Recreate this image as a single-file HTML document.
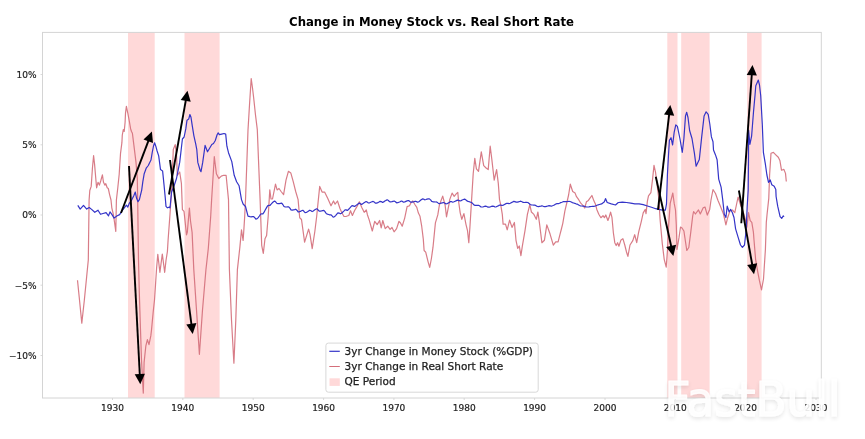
<!DOCTYPE html>
<html><head><meta charset="utf-8"><style>
html,body{margin:0;padding:0;background:#fff;}
svg{display:block;}
text{font-family:"DejaVu Sans","Liberation Sans",sans-serif;}
</style></head><body>
<svg width="865" height="439" viewBox="0 0 865 439">
<rect width="865" height="439" fill="#fff"/>

<rect x="128.0" y="32.4" width="26.7" height="365.6" fill="#ffd9d9"/>
<rect x="184.5" y="32.4" width="35.1" height="365.6" fill="#ffd9d9"/>
<rect x="667.3" y="32.4" width="10.2" height="365.6" fill="#ffd9d9"/>
<rect x="681.2" y="32.4" width="28.4" height="365.6" fill="#ffd9d9"/>
<rect x="747.1" y="32.4" width="14.5" height="365.6" fill="#ffd9d9"/>
<rect x="42.5" y="32.4" width="778.8" height="365.6" fill="none" stroke="#d4d4d4" stroke-width="1"/>
<line x1="112.5" y1="398.0" x2="112.5" y2="400.0" stroke="#d0d0d0" stroke-width="0.8"/>
<text x="112.5" y="411.3" font-size="9" fill="#222" stroke="#222" stroke-width="0.2" text-anchor="middle">1930</text>
<line x1="182.8" y1="398.0" x2="182.8" y2="400.0" stroke="#d0d0d0" stroke-width="0.8"/>
<text x="182.8" y="411.3" font-size="9" fill="#222" stroke="#222" stroke-width="0.2" text-anchor="middle">1940</text>
<line x1="253.2" y1="398.0" x2="253.2" y2="400.0" stroke="#d0d0d0" stroke-width="0.8"/>
<text x="253.2" y="411.3" font-size="9" fill="#222" stroke="#222" stroke-width="0.2" text-anchor="middle">1950</text>
<line x1="323.6" y1="398.0" x2="323.6" y2="400.0" stroke="#d0d0d0" stroke-width="0.8"/>
<text x="323.6" y="411.3" font-size="9" fill="#222" stroke="#222" stroke-width="0.2" text-anchor="middle">1960</text>
<line x1="393.9" y1="398.0" x2="393.9" y2="400.0" stroke="#d0d0d0" stroke-width="0.8"/>
<text x="393.9" y="411.3" font-size="9" fill="#222" stroke="#222" stroke-width="0.2" text-anchor="middle">1970</text>
<line x1="464.2" y1="398.0" x2="464.2" y2="400.0" stroke="#d0d0d0" stroke-width="0.8"/>
<text x="464.2" y="411.3" font-size="9" fill="#222" stroke="#222" stroke-width="0.2" text-anchor="middle">1980</text>
<line x1="534.6" y1="398.0" x2="534.6" y2="400.0" stroke="#d0d0d0" stroke-width="0.8"/>
<text x="534.6" y="411.3" font-size="9" fill="#222" stroke="#222" stroke-width="0.2" text-anchor="middle">1990</text>
<line x1="605.0" y1="398.0" x2="605.0" y2="400.0" stroke="#d0d0d0" stroke-width="0.8"/>
<text x="605.0" y="411.3" font-size="9" fill="#222" stroke="#222" stroke-width="0.2" text-anchor="middle">2000</text>
<line x1="675.3" y1="398.0" x2="675.3" y2="400.0" stroke="#d0d0d0" stroke-width="0.8"/>
<text x="675.3" y="411.3" font-size="9" fill="#222" stroke="#222" stroke-width="0.2" text-anchor="middle">2010</text>
<line x1="745.6" y1="398.0" x2="745.6" y2="400.0" stroke="#d0d0d0" stroke-width="0.8"/>
<text x="745.6" y="411.3" font-size="9" fill="#222" stroke="#222" stroke-width="0.2" text-anchor="middle">2020</text>
<line x1="816.0" y1="398.0" x2="816.0" y2="400.0" stroke="#d0d0d0" stroke-width="0.8"/>
<text x="816.0" y="411.3" font-size="9" fill="#222" stroke="#222" stroke-width="0.2" text-anchor="middle">2030</text>
<line x1="40.5" y1="74.5" x2="42.5" y2="74.5" stroke="#d0d0d0" stroke-width="0.8"/>
<text x="36.5" y="77.8" font-size="9" fill="#222" stroke="#222" stroke-width="0.2" text-anchor="end">10%</text>
<line x1="40.5" y1="144.8" x2="42.5" y2="144.8" stroke="#d0d0d0" stroke-width="0.8"/>
<text x="36.5" y="148.1" font-size="9" fill="#222" stroke="#222" stroke-width="0.2" text-anchor="end">5%</text>
<line x1="40.5" y1="215.0" x2="42.5" y2="215.0" stroke="#d0d0d0" stroke-width="0.8"/>
<text x="36.5" y="218.3" font-size="9" fill="#222" stroke="#222" stroke-width="0.2" text-anchor="end">0%</text>
<line x1="40.5" y1="285.2" x2="42.5" y2="285.2" stroke="#d0d0d0" stroke-width="0.8"/>
<text x="36.5" y="288.6" font-size="9" fill="#222" stroke="#222" stroke-width="0.2" text-anchor="end">−5%</text>
<line x1="40.5" y1="355.5" x2="42.5" y2="355.5" stroke="#d0d0d0" stroke-width="0.8"/>
<text x="36.5" y="358.8" font-size="9" fill="#222" stroke="#222" stroke-width="0.2" text-anchor="end">−10%</text>
<polyline points="77.5,280.2 79.5,300.0 81.8,323.1 84.3,300.5 86.7,276.2 88.3,260.0 89.1,200.0 89.8,190.5 91.2,186.4 92.5,167.3 93.6,155.7 94.6,164.6 96.0,181.0 96.6,187.8 98.0,182.3 99.4,185.1 100.7,181.0 102.4,174.8 103.5,182.3 104.8,185.1 105.8,183.7 107.2,187.8 108.3,188.5 109.6,194.6 111.0,200.0 111.8,207.8 113.5,215.0 115.8,231.3 116.4,200.0 117.8,187.8 119.2,174.2 120.5,153.7 121.9,142.7 122.3,135.0 123.3,129.6 124.2,131.5 125.1,122.3 125.5,113.2 126.4,106.4 127.8,113.2 129.2,120.5 130.6,128.7 131.5,131.5 132.4,133.3 134.4,149.4 136.0,162.4 137.3,178.5 137.7,201.0 138.2,240.0 138.5,260.0 139.3,292.4 140.5,330.0 141.5,360.0 143.3,393.1 144.1,362.4 145.8,346.2 147.4,339.7 149.0,344.6 150.8,335.9 151.5,330.0 153.2,312.0 154.5,300.0 155.5,285.0 156.6,268.0 157.8,254.4 159.9,272.3 162.3,254.0 164.7,272.3 166.0,260.5 167.4,251.6 168.1,240.0 170.0,214.3 171.6,190.0 173.3,149.4 175.2,144.6 176.5,154.3 177.3,175.3 179.7,172.0 181.4,183.4 182.4,209.7 184.0,211.3 186.5,234.8 187.3,232.4 189.4,208.1 190.5,221.0 192.1,232.4 193.8,269.6 196.5,310.0 199.4,354.3 202.5,310.0 205.9,270.0 208.3,248.5 210.7,216.2 211.6,200.0 214.3,156.7 216.4,173.7 218.8,178.5 221.3,176.1 223.7,175.3 226.1,175.3 228.5,199.6 229.4,269.6 231.5,320.0 233.9,363.2 235.8,320.0 237.4,269.6 239.9,246.9 241.5,229.9 243.1,240.5 243.9,229.1 244.7,216.2 245.5,200.0 248.0,130.0 249.5,105.0 251.2,78.6 252.5,88.0 253.6,97.2 255.5,115.0 257.3,129.6 258.5,160.0 260.1,199.6 261.7,245.3 263.3,253.4 265.0,238.8 266.6,235.6 268.2,216.2 269.8,189.9 271.0,199.0 272.5,199.0 275.5,184.2 277.1,189.9 279.0,188.5 281.1,191.5 283.6,194.7 286.0,180.2 288.4,171.3 290.8,172.9 293.3,181.8 295.7,191.5 298.1,199.6 299.7,217.8 301.5,219.5 304.6,242.1 308.6,229.1 310.0,234.3 312.2,248.7 314.9,231.0 316.7,216.2 317.3,210.0 319.7,186.4 322.1,192.1 324.6,192.1 327.8,198.5 331.0,205.8 333.5,201.0 335.1,204.2 337.5,201.0 339.9,208.3 341.6,212.3 344.0,216.5 346.4,216.3 348.8,215.5 350.5,210.7 352.4,215.5 354.5,210.7 356.9,206.6 359.4,201.8 361.8,207.4 364.2,212.3 366.3,209.9 367.4,214.7 369.1,219.6 372.3,231.0 374.7,221.3 377.2,224.6 379.6,220.5 381.2,227.8 382.8,220.5 385.2,228.6 387.7,226.2 390.1,229.4 392.0,227.5 394.1,231.8 396.6,228.6 399.0,221.3 400.5,223.0 402.2,226.2 404.7,218.1 407.1,206.6 409.5,205.8 411.1,202.6 412.8,201.0 415.2,205.0 416.8,207.4 418.4,213.1 420.0,216.3 421.7,226.2 423.3,239.1 424.1,250.5 425.7,252.1 428.1,261.8 429.7,267.4 431.4,258.5 433.0,247.2 435.4,222.9 437.8,214.9 439.4,205.0 442.7,196.1 445.1,205.0 446.5,216.8 448.9,204.7 449.7,199.6 452.1,193.1 454.2,196.3 456.2,193.9 457.8,192.3 458.6,201.5 460.2,212.8 461.8,219.3 463.9,213.6 465.9,224.1 467.5,230.6 468.8,242.7 469.9,227.4 471.6,199.9 473.2,173.7 474.8,158.3 476.4,168.8 478.5,171.3 481.3,151.8 483.7,165.6 486.1,168.0 488.2,169.6 490.2,146.2 491.8,159.1 494.2,180.2 496.6,169.6 498.3,183.4 499.5,199.6 500.7,204.7 502.3,214.4 503.1,224.1 505.5,224.1 507.2,229.8 509.6,220.1 512.0,227.4 514.4,222.5 516.0,240.3 517.7,248.4 519.3,246.0 520.9,255.7 522.5,245.2 525.0,230.6 527.4,214.4 529.8,204.7 531.4,212.0 533.9,214.4 536.3,219.3 537.9,212.0 539.5,223.3 541.9,242.7 544.4,240.3 546.8,224.9 550.0,233.8 553.3,245.2 555.7,241.9 558.1,241.9 560.0,234.4 561.4,229.0 562.8,223.3 564.9,210.8 566.9,202.5 568.6,195.0 570.3,184.2 572.7,191.5 575.1,193.1 576.5,196.7 578.7,199.7 580.8,203.2 582.9,205.3 584.7,208.0 586.4,201.8 588.4,200.4 589.8,198.3 591.9,195.5 594.0,201.1 595.4,203.9 596.8,209.4 598.8,214.3 600.9,217.7 603.0,215.7 604.4,217.7 605.8,215.0 607.9,220.5 609.2,217.0 610.6,212.2 612.0,217.7 613.4,233.0 614.8,242.7 616.2,245.5 617.6,242.7 618.9,246.2 621.0,239.9 622.9,238.7 624.9,245.5 626.5,252.0 627.9,256.4 630.0,245.0 632.8,240.6 634.7,234.7 636.7,242.6 638.7,231.8 641.2,221.8 643.2,212.9 645.3,209.4 646.0,213.6 647.4,201.1 648.5,195.9 650.9,192.7 652.5,179.7 654.0,165.4 655.6,172.7 657.2,185.6 658.8,198.5 660.1,219.6 662.3,243.6 664.2,259.3 666.2,267.2 667.5,250.0 668.2,231.6 670.2,203.4 672.8,193.0 674.2,203.4 675.5,210.0 676.3,225.0 677.0,249.5 679.0,237.7 680.5,227.0 682.0,228.0 683.9,231.0 686.8,250.5 688.8,247.5 690.8,231.8 692.7,216.0 693.6,211.5 695.4,214.0 698.5,209.9 700.3,214.0 703.2,207.8 705.0,207.0 707.3,215.1 709.7,209.4 711.0,200.0 713.0,189.5 715.5,193.5 717.9,200.2 720.3,206.0 723.5,214.0 725.9,224.8 727.5,218.3 729.9,211.0 732.4,210.0 734.8,212.7 736.4,205.0 738.1,197.0 740.6,205.0 743.0,211.5 745.3,219.1 746.9,227.2 748.5,212.7 750.2,220.7 751.8,222.4 753.4,232.1 754.0,240.0 755.6,259.3 757.6,271.1 759.5,280.9 761.5,289.8 763.5,279.0 765.4,249.5 766.3,222.4 767.0,215.0 768.8,198.1 769.6,175.0 771.0,153.2 773.4,152.4 775.8,154.8 778.3,157.2 779.9,160.5 781.5,170.2 783.9,169.4 785.5,173.4 786.3,181.5" fill="none" stroke="#d46e7a" stroke-width="1.2" stroke-linejoin="round" opacity="0.9"/>
<polyline points="77.8,205.4 80.2,209.1 83.5,205.4 86.7,209.1 89.2,207.5 91.6,209.4 94.8,212.3 98.0,210.2 100.5,214.3 103.0,213.5 106.1,212.7 108.5,215.9 110.0,211.9 112.0,214.6 114.1,218.1 116.8,216.0 119.6,214.6 122.3,210.5 124.3,207.8 126.4,205.1 127.8,207.1 129.1,203.7 131.9,199.6 133.9,195.5 135.3,192.1 136.6,198.3 138.0,201.7 139.4,199.6 140.7,194.2 141.7,190.1 142.8,181.9 144.2,173.7 146.2,168.2 148.3,165.5 149.6,162.7 151.0,160.0 152.2,152.7 153.5,146.0 154.6,142.8 155.8,146.2 157.1,151.0 158.7,155.9 160.5,169.6 162.6,170.9 164.0,184.6 165.3,198.3 166.0,206.4 167.4,207.8 169.4,207.1 170.0,207.8 171.6,192.0 174.0,186.0 176.5,178.5 179.7,162.4 180.8,153.0 182.4,139.0 184.1,137.0 185.8,128.9 187.0,120.2 188.7,119.1 189.9,114.5 191.0,117.3 192.2,125.4 193.9,135.8 195.7,143.9 196.8,149.7 197.8,162.4 200.2,170.5 201.0,171.7 202.7,162.4 205.1,145.4 207.5,151.8 209.9,147.8 211.8,144.5 213.5,143.5 215.3,140.5 217.1,134.7 218.2,132.9 219.4,134.7 221.7,134.1 224.0,133.5 225.7,134.1 226.9,146.2 228.5,152.7 231.8,161.6 234.2,175.3 236.6,181.8 239.1,185.8 241.5,199.6 243.1,204.0 245.5,206.5 248.0,216.2 250.0,216.7 251.2,216.9 252.3,216.7 253.5,216.5 254.7,217.7 255.9,219.2 257.0,218.8 258.2,217.6 259.4,216.0 260.6,214.2 261.7,213.8 262.9,213.9 264.1,212.2 265.2,210.0 266.4,207.9 267.6,205.9 268.8,205.4 269.9,205.5 271.1,204.2 272.3,202.8 273.5,201.7 274.6,201.0 275.8,202.0 277.0,203.5 278.1,203.7 279.3,203.6 280.5,203.4 281.7,203.2 282.8,204.5 284.0,206.5 285.2,206.9 286.3,207.0 287.5,206.9 288.7,206.8 289.9,208.1 291.0,209.9 292.2,210.2 293.4,209.9 294.6,209.6 295.7,209.2 296.9,210.2 298.1,211.8 299.2,211.8 300.4,211.4 301.6,210.8 302.8,210.3 303.9,211.3 305.1,212.6 306.3,212.5 307.5,211.8 308.6,211.0 309.8,210.2 311.0,210.7 312.1,211.6 313.3,210.9 314.5,210.0 315.7,209.3 316.8,208.8 318.0,209.8 319.2,211.2 320.4,211.1 321.5,210.9 322.7,210.6 323.9,210.4 325.0,211.6 326.2,213.5 327.4,214.2 328.6,214.5 329.7,214.8 330.9,214.8 332.1,215.9 333.2,217.1 334.4,216.7 335.6,215.6 336.8,214.2 337.9,212.9 339.1,213.1 340.3,213.8 341.5,213.2 342.6,212.2 343.8,211.1 345.0,209.9 346.1,209.9 347.3,210.4 348.5,209.5 349.7,208.2 350.8,206.9 352.0,205.7 353.2,205.9 354.4,206.5 355.5,205.9 356.7,204.9 357.9,204.0 359.0,203.1 360.2,203.6 361.4,204.4 362.6,203.9 363.7,203.0 364.9,202.2 366.1,201.5 367.3,202.1 368.4,203.0 369.6,202.8 370.8,202.2 371.9,201.8 373.1,201.4 374.3,202.1 375.5,203.2 376.6,203.1 377.8,202.6 379.0,202.0 380.1,201.3 381.3,201.6 382.5,202.4 383.7,201.9 384.8,201.1 386.0,200.4 387.2,199.8 388.4,200.5 389.5,201.7 390.7,201.8 391.9,201.6 393.0,201.3 394.2,201.0 395.4,201.7 396.6,202.8 397.7,202.7 398.9,202.2 400.1,201.7 401.3,201.0 402.4,201.4 403.6,202.2 404.8,201.9 405.9,201.4 407.1,200.9 408.3,200.5 409.5,201.1 410.6,202.2 411.8,202.2 413.0,201.9 414.2,201.6 415.3,201.2 416.5,201.6 417.7,202.2 418.8,201.7 420.0,200.8 421.2,199.8 422.4,198.9 423.5,199.1 424.7,199.8 425.9,199.5 427.0,199.1 428.2,198.9 429.4,198.9 430.6,199.9 431.7,201.4 432.9,201.8 434.1,201.9 435.3,202.0 436.4,201.9 437.6,202.6 438.8,203.6 439.9,203.5 441.1,203.1 442.3,202.8 443.5,202.5 444.6,203.0 445.8,203.8 447.0,203.6 448.2,203.1 449.3,202.4 450.5,201.6 451.7,201.7 452.8,202.2 454.0,201.8 455.2,201.2 456.4,200.6 457.5,200.1 458.7,200.4 459.9,200.9 461.1,200.6 462.2,200.0 463.4,199.5 464.6,199.1 465.7,199.8 466.9,200.9 468.1,201.4 469.3,201.7 470.4,202.1 471.6,202.5 472.8,203.6 473.9,204.9 475.1,205.4 476.3,205.4 477.5,205.4 478.6,205.3 479.8,206.1 481.0,207.0 482.2,207.0 483.3,206.8 484.5,206.4 485.7,206.1 486.8,206.5 488.0,207.2 489.2,207.1 490.4,206.8 491.5,206.4 492.7,206.1 493.9,206.4 495.1,207.0 496.2,206.8 497.4,206.2 498.6,205.6 499.7,205.0 500.9,205.1 502.1,205.5 503.3,205.2 504.4,204.5 505.6,203.9 506.8,203.3 508.0,203.4 509.1,203.7 510.3,203.3 511.5,202.6 512.6,202.0 513.8,201.4 515.0,201.6 516.2,202.2 517.3,202.1 518.5,201.8 519.7,201.5 520.8,201.2 522.0,201.7 523.2,202.4 524.4,202.5 525.5,202.4 526.7,202.4 527.9,202.5 529.1,203.4 530.2,204.5 531.4,204.8 532.6,205.0 533.7,205.1 534.9,205.1 536.1,205.7 537.3,206.5 538.4,206.6 539.6,206.3 540.8,206.1 542.0,205.8 543.1,206.2 544.3,206.7 545.5,206.6 546.6,206.3 547.8,206.0 549.0,205.7 550.2,205.9 551.3,206.1 552.5,205.7 553.7,205.2 554.9,204.6 556.0,203.9 557.2,203.7 558.4,203.6 559.5,203.2 560.7,202.6 561.9,202.2 563.1,201.7 564.2,201.6 565.4,201.7 566.6,201.6 567.7,201.5 568.9,201.4 570.1,201.5 571.3,202.0 572.4,202.6 573.6,203.0 574.8,203.4 576.0,203.8 577.1,204.1 578.3,204.8 579.5,205.5 580.6,205.8 581.8,206.0 583.0,206.1 584.2,206.2 585.3,206.6 586.5,207.0 587.7,207.0 588.9,206.9 590.0,206.7 591.2,206.5 592.4,206.4 593.5,206.4 594.7,206.1 595.9,205.7 597.1,205.2 598.2,204.8 599.4,204.5 601.6,203.9 604.4,201.8 605.5,198.6 607.2,202.5 611.3,203.9 615.5,205.0 618.3,202.5 622.4,202.2 626.6,202.5 630.7,203.2 634.9,203.9 639.1,203.9 643.2,204.6 647.4,206.0 651.5,207.3 655.7,208.7 658.5,209.4 662.6,210.1 665.4,210.1 666.5,203.9 667.4,175.0 668.5,155.0 669.4,140.2 671.0,137.7 672.6,145.0 674.2,132.1 675.8,124.8 677.4,126.4 679.9,138.5 682.3,152.3 683.9,138.5 685.5,115.9 686.7,112.3 688.0,117.5 689.6,130.5 692.0,138.5 694.4,153.1 696.1,166.2 699.3,159.6 701.7,136.9 704.1,115.9 706.1,111.8 708.2,114.3 709.8,124.0 711.4,136.9 713.0,141.8 713.5,150.0 715.5,154.9 717.1,159.7 718.7,179.1 721.1,187.2 722.7,199.7 724.3,214.3 725.9,217.5 727.2,206.2 729.1,211.8 730.7,209.4 732.4,212.7 734.0,217.5 735.6,228.8 738.0,236.9 740.5,245.0 742.4,247.4 744.5,245.0 746.1,230.5 747.2,206.2 748.2,190.0 748.5,160.0 748.6,130.0 749.9,144.3 751.6,136.2 753.5,112.0 755.0,95.5 755.8,85.7 757.0,83.0 758.3,80.1 759.5,85.0 760.7,95.5 761.5,110.0 762.3,124.6 763.4,152.4 765.3,163.7 766.9,175.0 768.5,182.3 770.2,179.9 771.8,184.7 774.2,186.3 775.8,189.6 776.1,196.5 777.7,206.2 780.1,216.7 781.7,218.3 783.3,215.9 784.1,216.7" fill="none" stroke="#3434c8" stroke-width="1.2" stroke-linejoin="round"/>
<line x1="121.0" y1="213.0" x2="148.6" y2="140.3" stroke="#000" stroke-width="1.9"/>
<polygon points="151.9,131.6 153.0,143.0 143.5,139.4" fill="#000"/>
<line x1="129.0" y1="166.0" x2="139.8" y2="375.0" stroke="#000" stroke-width="1.9"/>
<polygon points="140.3,384.3 134.7,374.3 144.9,373.8" fill="#000"/>
<line x1="169.0" y1="194.5" x2="185.9" y2="99.9" stroke="#000" stroke-width="1.9"/>
<polygon points="187.5,90.7 190.7,101.7 180.7,99.9" fill="#000"/>
<line x1="170.0" y1="160.0" x2="191.5" y2="324.8" stroke="#000" stroke-width="1.9"/>
<polygon points="192.7,334.0 186.3,324.4 196.4,323.1" fill="#000"/>
<line x1="658.0" y1="209.9" x2="669.2" y2="114.2" stroke="#000" stroke-width="1.9"/>
<polygon points="670.3,105.0 674.2,115.8 664.0,114.6" fill="#000"/>
<line x1="655.8" y1="176.7" x2="671.3" y2="246.8" stroke="#000" stroke-width="1.9"/>
<polygon points="673.3,255.9 666.1,246.9 676.1,244.7" fill="#000"/>
<line x1="741.3" y1="223.2" x2="751.8" y2="74.3" stroke="#000" stroke-width="1.9"/>
<polygon points="752.5,65.0 756.9,75.6 746.7,74.9" fill="#000"/>
<line x1="738.9" y1="190.5" x2="752.3" y2="265.0" stroke="#000" stroke-width="1.9"/>
<polygon points="754.0,274.2 747.2,265.0 757.2,263.2" fill="#000"/>
<rect x="325.9" y="343.1" width="212.3" height="49.1" rx="2.5" fill="#fff" fill-opacity="0.85" stroke="#d8d8d8" stroke-width="1"/>
<line x1="329.3" y1="351.3" x2="339.8" y2="351.3" stroke="#3434c8" stroke-width="1.2"/>
<line x1="329.3" y1="366.5" x2="339.8" y2="366.5" stroke="#d46e7a" stroke-width="1"/>
<rect x="329.5" y="378.3" width="10.3" height="7.6" fill="#ffd9d9"/>
<text x="344.6" y="355.00" font-size="10.5" fill="#222" stroke="#222" stroke-width="0.25">3yr Change in Money Stock (%GDP)</text>
<text x="344.6" y="369.95" font-size="10.5" fill="#222" stroke="#222" stroke-width="0.25">3yr Change in Real Short Rate</text>
<text x="344.6" y="384.90" font-size="10.5" fill="#222" stroke="#222" stroke-width="0.25">QE Period</text>
<text x="431.5" y="25.8" font-size="11.7" font-weight="bold" fill="#000" text-anchor="middle">Change in Money Stock vs. Real Short Rate</text>
<defs><filter id="sh" x="-10%" y="-30%" width="120%" height="160%"><feGaussianBlur in="SourceAlpha" stdDeviation="2"/><feOffset dx="0" dy="1.5"/><feComponentTransfer><feFuncA type="linear" slope="0.12"/></feComponentTransfer><feMerge><feMergeNode/><feMergeNode in="SourceGraphic"/></feMerge></filter></defs>
<text x="664.5" y="415.5" font-family="DejaVu Sans, sans-serif" font-size="48" fill="#fff" fill-opacity="0.86" stroke="#fff" stroke-opacity="0.86" stroke-width="1.2" stroke-linejoin="round" filter="url(#sh)" textLength="176" lengthAdjust="spacingAndGlyphs">FastBull</text>
</svg></body></html>
